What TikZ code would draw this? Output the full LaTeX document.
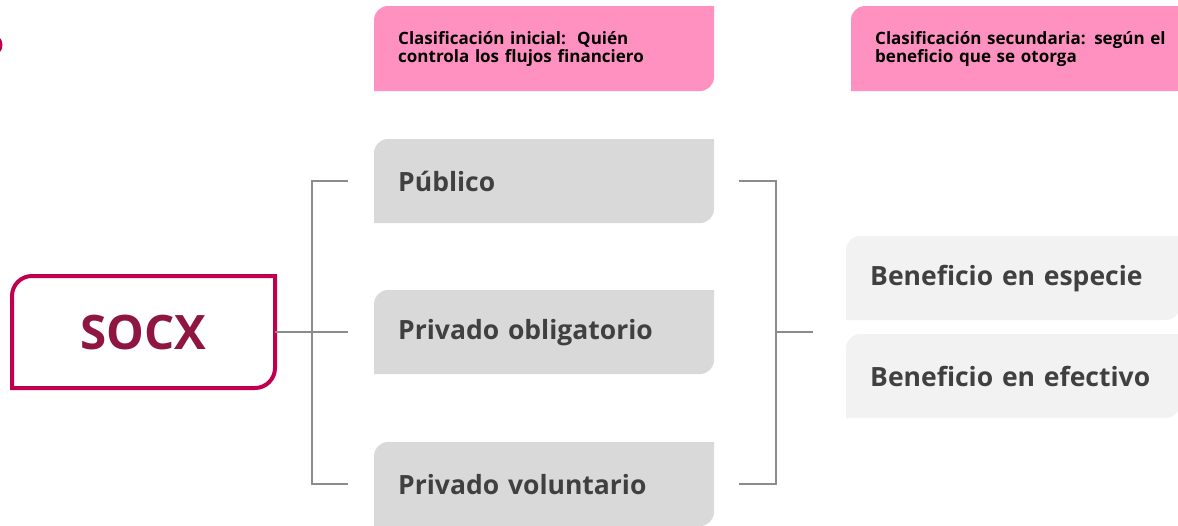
\documentclass[tikz,border=0pt]{standalone}
\usepackage{fontspec}
\setmainfont{Open Sans}
\definecolor{pinkbox}{HTML}{FF91C1}
\definecolor{graybox}{HTML}{D9D9D9}
\definecolor{lightbox}{HTML}{F2F2F2}
\definecolor{txtgray}{HTML}{404040}
\definecolor{socxline}{HTML}{C0004F}
\definecolor{socxtext}{HTML}{8E1640}
\definecolor{conn}{HTML}{8C8C8C}
% box with rounded top-left and bottom-right corners: {x1}{y1}{x2}{y2}{r}{options}
\newcommand\tlbrshape[6]{%
  \path[#6] (#1,#4) -- ({#1},{#2+#5})
    .. controls ({#1},{#2+0.448*#5}) and ({#1+0.448*#5},{#2}) .. ({#1+#5},{#2})
    -- (#3,#2) -- ({#3},{#4-#5})
    .. controls ({#3},{#4-0.448*#5}) and ({#3-0.448*#5},{#4}) .. ({#3-#5},{#4})
    -- cycle;}
\tikzset{
  headbox/.style={rectangle, minimum height=85pt, text width=292pt, inner xsep=24pt, inner ysep=0pt, align=left, anchor=north west, font=\fontsize{17}{18}\selectfont\bfseries, text=black},
  catbox/.style={rectangle, minimum height=84pt, text width=292pt, inner xsep=24pt, inner ysep=0pt, align=left, anchor=north west, font=\fontsize{26.5}{30}\selectfont\bfseries, text=txtgray},
  benbox/.style={rectangle, minimum height=84pt, text width=286pt, inner xsep=24pt, inner ysep=0pt, align=left, anchor=north west, font=\fontsize{26.5}{30}\selectfont\bfseries, text=txtgray},
  connector/.style={draw=conn, line width=2pt},
}
\begin{document}
\begin{tikzpicture}[x=1pt,y=-1pt]
\useasboundingbox (0,0) rectangle (1178,525);
% partial circle at top left
\draw[socxline, line width=3pt] (-9,45) circle (10);
% box shapes
\tlbrshape{374}{6}{714}{91}{14}{fill=pinkbox}
\tlbrshape{851}{6}{1191}{91}{14}{fill=pinkbox}
\tlbrshape{374}{139}{714}{223}{14}{fill=graybox}
\tlbrshape{374}{290}{714}{374}{14}{fill=graybox}
\tlbrshape{374}{442}{714}{526}{14}{fill=graybox}
\tlbrshape{846}{236}{1180}{320}{14}{fill=lightbox}
\tlbrshape{846}{334}{1180}{418}{14}{fill=lightbox}
\tlbrshape{12}{276}{275}{388}{20}{draw=socxline, line width=4pt}
% header boxes
\node[headbox] (h1) at (374,6) {Clasificación inicial:\ \ Quién\\controla los flujos financiero};
\node[headbox] (h2) at (851,6) {Clasificación secundaria: según el\\beneficio que se otorga};
% category boxes
\node[catbox] (pub) at (374,139) {Público};
\node[catbox] (pobl) at (374,290) {Privado obligatorio};
\node[catbox] (pvol) at (374,442) {Privado voluntario};
% benefit boxes
\node[benbox] (esp) at (846,236) {Beneficio en especie};
\node[benbox] (efe) at (846,334) {Beneficio en efectivo};
% SOCX
\node[rectangle, minimum width=263pt, minimum height=112pt, anchor=north west, inner sep=0pt, font=\fontsize{47.5}{50}\selectfont\bfseries, text=socxtext] (socx) at (12,276) {SOCX};
% connectors
\coordinate (lb) at ([xshift=37pt]socx.east);
\coordinate (rb) at (776,0 |- lb);
\draw[connector] (socx.east) -- (lb);
\draw[connector] (lb) -- ([xshift=-26pt]pobl.west |- lb);
\draw[connector] ([xshift=-26pt]pub.west) -| (lb) |- ([xshift=-26pt]pvol.west);
\draw[connector] ([xshift=25pt]pub.east) -| (rb) |- ([xshift=25pt]pvol.east);
\draw[connector] (rb) -- ([xshift=-33pt]esp.west |- rb);
\end{tikzpicture}
\end{document}
